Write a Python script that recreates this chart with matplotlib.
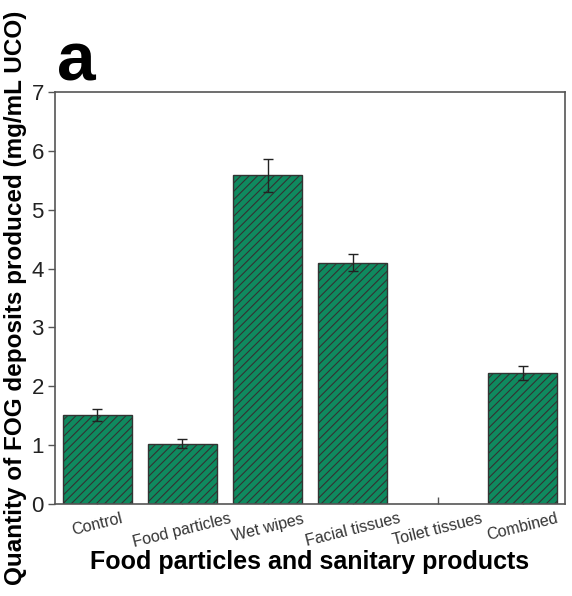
import matplotlib
matplotlib.use("Agg")
import matplotlib.pyplot as plt

plt.rcParams['font.family'] = ['Liberation Sans', 'DejaVu Sans']
plt.rcParams['hatch.color'] = '#1a3d2e'
plt.rcParams['hatch.linewidth'] = 0.8

categories = ["Control", "Food particles", "Wet wipes", "Facial tissues", "Toilet tissues", "Combined"]
values = [1.52, 1.03, 5.58, 4.10, 0.0, 2.22]
errors = [0.10, 0.08, 0.28, 0.15, 0.0, 0.12]
yticks = [0, 1, 2, 3, 4, 5, 6, 7]

fig = plt.figure(figsize=(5.72, 5.96), dpi=100)
ax = fig.add_axes([0.096, 0.154, 0.892, 0.692])

x = list(range(len(categories)))
bars = ax.bar(x, values, width=0.81, color='#0f8a5f', edgecolor='#333333',
              linewidth=1.0, hatch='////', zorder=2)
for b, v in zip(bars, values):
    if v == 0:
        b.set_visible(False)
ex = [i for i, v in zip(x, values) if v > 0]
ev = [v for v in values if v > 0]
ee = [e for v, e in zip(values, errors) if v > 0]
ax.errorbar(ex, ev, yerr=ee, fmt='none', ecolor='#222222', elinewidth=1.0,
            capsize=3.5, capthick=1.0, zorder=3)

ax.set_xlim(-0.5, 5.5)
ax.set_ylim(0, 7)
ax.set_yticks(yticks)
ax.set_yticklabels([str(t) for t in yticks], fontsize=16, color='#222222')
ax.set_xticks(x)
ax.set_xticklabels(categories, rotation=14, fontsize=11.5, color='#333333',
                   ha='center')
ax.tick_params(axis='y', direction='out', length=5, width=1, color='#555555', pad=3)
ax.tick_params(axis='x', direction='in', length=5, width=1, color='#555555', pad=5)
for s in ax.spines.values():
    s.set_color('#555555')
    s.set_linewidth(1.2)

ax.set_xlabel("Food particles and sanitary products", fontsize=18,
              fontweight='bold', labelpad=0)
ax.set_ylabel("Quantity of FOG deposits produced (mg/mL UCO)", fontsize=17.5,
              fontweight='bold', labelpad=3)

fig.text(0.10, 0.865, "a", fontsize=50, fontweight='bold', ha='left', va='baseline')

fig.savefig("out.png", dpi=100)
